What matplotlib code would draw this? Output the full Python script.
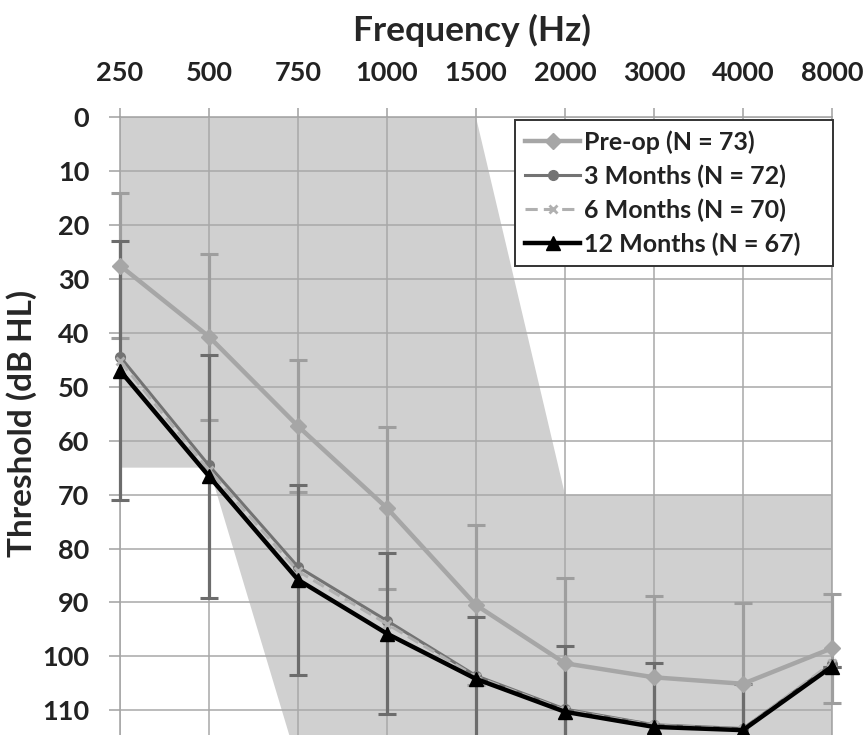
import numpy as np
import matplotlib
matplotlib.use("Agg")
import matplotlib.pyplot as plt
from matplotlib.patches import Polygon

plt.rcParams['font.family'] = ['Lato', 'DejaVu Sans']
plt.rcParams['font.weight'] = 'bold'

# Data
freqs = ['250', '500', '750', '1000', '1500', '2000', '3000', '4000', '8000']
preop = [27.5, 40.7, 57.3, 72.5, 90.5, 101.3, 103.9, 105.1, 98.5]
preop_sd = [13.4, 15.4, 12.2, 15.0, 14.9, 15.8, 15.0, 14.9, 10.1]
m3 = [44.4, 64.6, 83.4, 93.4, 103.6, 109.8, 112.7, 113.4, 101.5]
m6 = [45.2, 65.5, 84.2, 94.0, 103.8, 110.0, 112.8, 113.5, 101.2]
m12 = [47.0, 66.6, 85.8, 95.8, 104.2, 110.3, 113.1, 113.7, 101.9]
m12_sd = [24.0, 22.5, 17.6, 14.9, 11.4, 12.3, 11.8, 8.6, 0.0]
labels = ['Pre-op (N = 73)', '3 Months (N = 72)', '6 Months (N = 70)', '12 Months (N = 67)']

# shaded candidacy region (category index, dB HL)
shade_x = [0, 4, 5, 8, 8, 2, 1, 0]
shade_y = [0, 0, 70, 70, 120, 120, 65, 65]

x = np.arange(len(freqs))

fig = plt.figure(figsize=(8.67, 7.35), dpi=100)
ax = fig.add_axes([120 / 867, 0, 712 / 867, 1 - 117.3 / 735])

ax.add_patch(Polygon(list(zip(shade_x, shade_y)), closed=True,
                     facecolor='#d0d0d0', edgecolor='none', zorder=0))

light = '#a6a6a6'
dark = '#6c6c6c'

# error bars (pre-op light, 12 months dark)
ax.errorbar(x, preop, yerr=preop_sd, fmt='none', ecolor='#9e9e9e',
            elinewidth=2.3, capsize=6.5, capthick=2.2, zorder=3, clip_on=False)
ax.errorbar(x, m12, yerr=m12_sd, fmt='none', ecolor=dark,
            elinewidth=2.3, capsize=6.5, capthick=2.2, zorder=3.1, clip_on=False)

ax.plot(x, preop, color=light, lw=3.2, marker='D', ms=8, label=labels[0],
        zorder=4, clip_on=False)
ax.plot(x, m3, color='#737373', lw=2.2, marker='o', ms=7, label=labels[1],
        zorder=4.1, clip_on=False)
ax.plot(x, m6, color='#b0b0b0', lw=2.2, ls=(0, (4, 2)), marker='x', ms=6,
        mew=2, label=labels[2], zorder=4.2, clip_on=False)
ax.plot(x, m12, color='black', lw=3.2, marker='^', ms=10, label=labels[3],
        zorder=4.3, clip_on=False)

ax.set_xlim(0, 8)
ax.set_ylim(114.6, 0)
ax.set_xticks(x)
ax.set_xticklabels(freqs)
ax.set_yticks(np.arange(0, 111, 10))
ax.xaxis.tick_top()

ax.grid(True, color='#a8a8a8', lw=1.1, zorder=1)
ax.set_axisbelow(False)
for s in ['left', 'top', 'right']:
    ax.spines[s].set_color('#a0a0a0')
    ax.spines[s].set_linewidth(1.1)
ax.spines['bottom'].set_visible(False)

ax.tick_params(axis='x', top=True, bottom=False, length=6.5, width=1.1,
               color='#a0a0a0', pad=17, labelsize=19.5, labelcolor='#222222')
ax.tick_params(axis='y', length=8, width=1.1, color='#a0a0a0', pad=14,
               labelsize=19.5, labelcolor='#222222')
for gl in ax.get_xgridlines() + ax.get_ygridlines():
    gl.set_zorder(1)

fig.text(472 / 867, 1 - 30 / 735, 'Frequency (Hz)', ha='center', va='center',
         fontsize=25.5, fontweight='bold', color='#262626')
fig.text(22 / 867, 1 - 423 / 735, 'Threshold (dB HL)', ha='center', va='center',
         rotation=90, fontsize=24, fontweight='bold', color='#262626')

leg_top = 1 - 120 / 735
leg = ax.legend(loc='upper left',
                bbox_to_anchor=(515 / 867, leg_top - 0.2, 318 / 867, 0.2),
                bbox_transform=fig.transFigure, borderaxespad=0, mode='expand',
                fontsize=18, frameon=True, fancybox=False, framealpha=1,
                edgecolor='#333333', handlelength=2.2, handletextpad=0.15,
                labelspacing=0.42, borderpad=0.4)
leg.get_frame().set_linewidth(1.4)
for t in leg.get_texts():
    t.set_color('#222222')

fig.savefig('out.png', dpi=100)
